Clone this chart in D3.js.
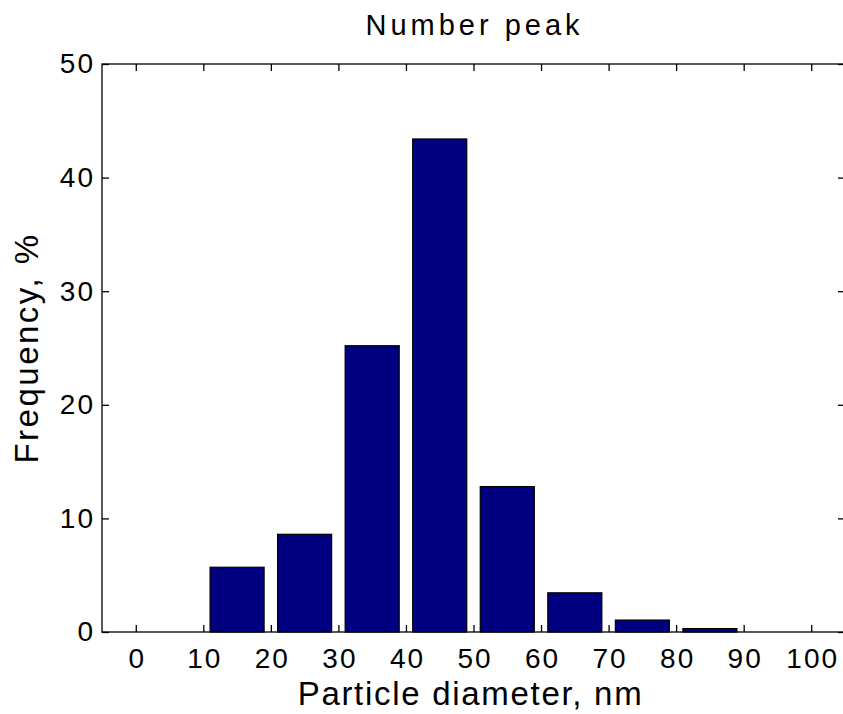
<!DOCTYPE html>
<html>
<head>
<meta charset="utf-8">
<script src="https://cdn.jsdelivr.net/npm/d3@7"></script>
<style>
  html, body { margin: 0; padding: 0; background: #fff; }
  svg { display: block; font-family: "Liberation Sans", Arial, sans-serif; }
</style>
</head>
<body>
<svg id="chart" width="843" height="714"></svg>
<script>
// Histogram of particle diameters (bin centres, nm) and frequency (%)
const binCenters = [15, 25, 35, 45, 55, 65, 75, 85];
const frequency = [5.7, 8.6, 25.2, 43.4, 12.8, 3.45, 1.05, 0.3];
const xTicks = [0, 10, 20, 30, 40, 50, 60, 70, 80, 90, 100];
const yTicks = [0, 10, 20, 30, 40, 50];
const title = "Number peak";
const xLabel = "Particle diameter, nm";
const yLabel = "Frequency, %";

const svg = d3.select("#chart");
const W = 843, H = 714;
const x0 = 102, x1 = 845, y0 = 632, y1 = 64;

const x = d3.scaleLinear().domain([-5, 105]).range([x0, x1]);
const y = d3.scaleLinear().domain([0, 50]).range([y0, y1]);
const binWidth = 10 * 0.8;

// bars
svg.append("g").selectAll("rect").data(binCenters).join("rect")
  .attr("x", (d) => x(d - binWidth / 2))
  .attr("width", (d) => x(d + binWidth / 2) - x(d - binWidth / 2))
  .attr("y", (d, i) => y(frequency[i]))
  .attr("height", (d, i) => y(0) - y(frequency[i]))
  .attr("fill", "#000080")
  .attr("stroke", "#000")
  .attr("stroke-width", 1.2);

const tickLen = 7;
const fontTick = 28;
const tickSpacing = 2;

// inward ticks on all four sides
const bottomAxis = d3.axisBottom(x).tickValues(xTicks).tickSizeInner(-tickLen).tickSizeOuter(0).tickPadding(16);
const topAxis = d3.axisTop(x).tickValues(xTicks).tickSizeInner(-tickLen).tickSizeOuter(0).tickFormat("");
const leftAxis = d3.axisLeft(y).tickValues(yTicks).tickSizeInner(-tickLen).tickSizeOuter(0).tickPadding(7);
const rightAxis = d3.axisRight(y).tickValues(yTicks).tickSizeInner(-tickLen).tickSizeOuter(0).tickFormat("");

function style(g) {
  g.select(".domain").remove();
  g.selectAll("line").attr("stroke", "#000").attr("stroke-width", 1.3);
  g.selectAll("text").attr("fill", "#000").style("font-size", fontTick + "px")
    .style("letter-spacing", tickSpacing + "px")
    .style("font-family", '"Liberation Sans", Arial, sans-serif');
}

svg.append("g").attr("transform", `translate(0,${y0})`).call(bottomAxis).call(style)
  .selectAll("text").attr("dx", tickSpacing / 2);
svg.append("g").attr("transform", `translate(0,${y1})`).call(topAxis).call(style);
svg.append("g").attr("transform", `translate(${x0},0)`).call(leftAxis).call(style);
svg.append("g").attr("transform", `translate(${x1},0)`).call(rightAxis).call(style);

// frame
svg.append("rect")
  .attr("x", x0).attr("y", y1)
  .attr("width", x1 - x0).attr("height", y0 - y1)
  .attr("fill", "none").attr("stroke", "#000").attr("stroke-width", 1.3);

// title and axis labels
const centreX = (x0 + 843) / 2;
svg.append("text").attr("x", centreX + 2).attr("y", 35)
  .attr("text-anchor", "middle").style("font-size", "29px")
  .style("letter-spacing", "4px").text(title);
svg.append("text").attr("x", centreX - 2).attr("y", 705)
  .attr("text-anchor", "middle").style("font-size", "33px")
  .style("letter-spacing", "1.7px").text(xLabel);
svg.append("text")
  .attr("transform", `translate(38,${348}) rotate(-90)`)
  .attr("text-anchor", "middle").style("font-size", "33px")
  .style("letter-spacing", "2.5px").text(yLabel);
</script>
</body>
</html>
